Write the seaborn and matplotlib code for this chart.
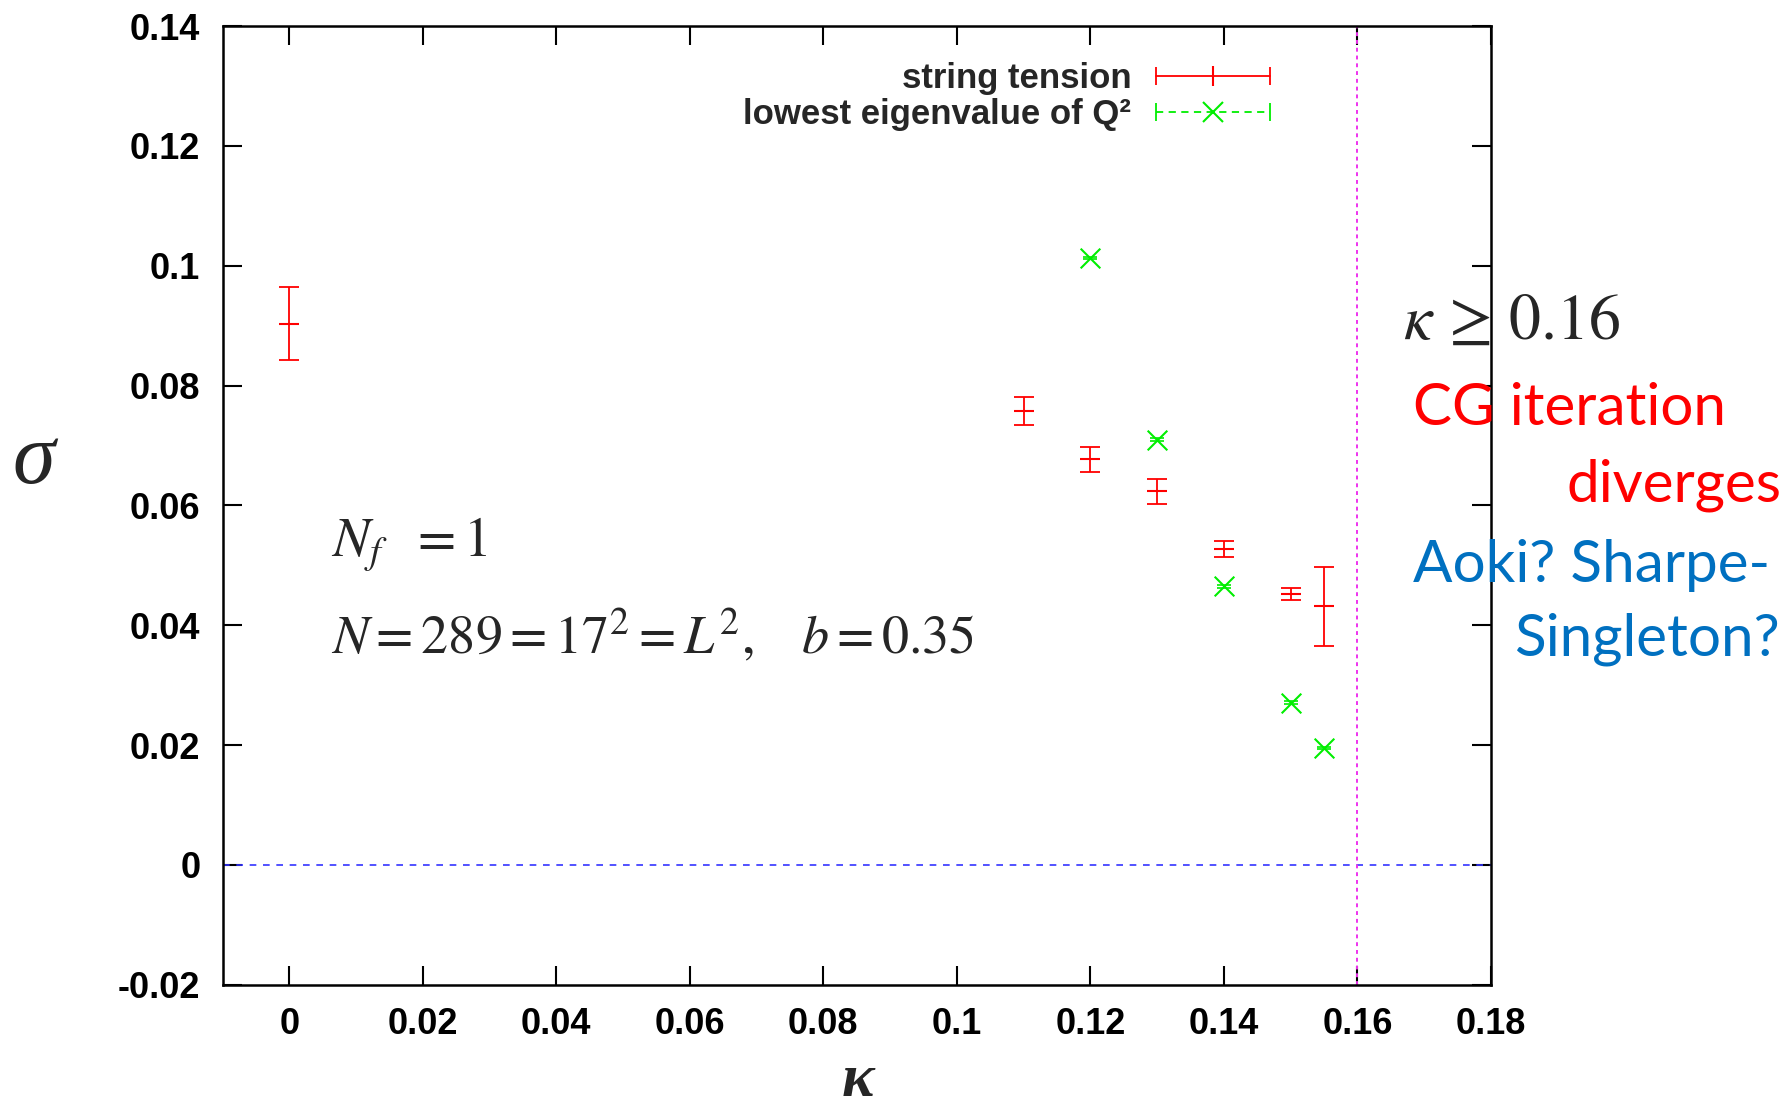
import numpy as np
import pandas as pd
import matplotlib
matplotlib.use("Agg")
import matplotlib.pyplot as plt
import seaborn as sns
from matplotlib.lines import Line2D
from matplotlib.legend_handler import HandlerBase

# ---------------- data ----------------
kappa_st = [0.0, 0.11, 0.12, 0.13, 0.14, 0.15, 0.155]
sigma_st = [0.0903, 0.0758, 0.0677, 0.0624, 0.0527, 0.0453, 0.0432]
sigma_st_err = [0.0061, 0.0023, 0.0021, 0.0021, 0.0013, 0.0010, 0.0066]

kappa_ev = [0.12, 0.13, 0.14, 0.15, 0.155]
sigma_ev = [0.1013, 0.0710, 0.0465, 0.0271, 0.0195]
sigma_ev_err = [0.0002, 0.0002, 0.0002, 0.0002, 0.0002]

xticks = [0.0, 0.02, 0.04, 0.06, 0.08, 0.10, 0.12, 0.14, 0.16, 0.18]
xtick_labels = ["0", "0.02", "0.04", "0.06", "0.08", "0.1", "0.12", "0.14", "0.16", "0.18"]
yticks = [-0.02, 0.0, 0.02, 0.04, 0.06, 0.08, 0.10, 0.12, 0.14]
ytick_labels = ["-0.02", "0", "0.02", "0.04", "0.06", "0.08", "0.1", "0.12", "0.14"]

kappa_limit = 0.16
legend_labels = ["string tension", "lowest eigenvalue of Q²"]

RED = "#ff0000"
GREEN = "#00ee00"

df_st = pd.DataFrame({"kappa": kappa_st, "sigma": sigma_st, "err": sigma_st_err})
df_ev = pd.DataFrame({"kappa": kappa_ev, "sigma": sigma_ev, "err": sigma_ev_err})

# ---------------- style ----------------
sns.set_theme(style="ticks")
plt.rcParams["font.family"] = ["Liberation Sans", "DejaVu Sans"]
plt.rcParams["mathtext.fontset"] = "stix"

fig = plt.figure(figsize=(17.89, 11.08), dpi=100)
ax = fig.add_axes([0.1244, 0.1112, 0.8334 - 0.1244, 0.9764 - 0.1112])
ax.set_facecolor("white")

# reference lines
ax.axhline(0, color="#3333ff", lw=1.2, ls=(0, (4, 4)), zorder=1)
ax.axvline(kappa_limit, color="#ee33ee", lw=1.4, ls=(0, (2, 2)), zorder=1)

# string tension
ax.errorbar(df_st["kappa"], df_st["sigma"], yerr=df_st["err"], fmt="none",
            ecolor=RED, elinewidth=1.3, capsize=7, capthick=1.3, zorder=3)
sns.scatterplot(data=df_st, x="kappa", y="sigma", marker="_", s=190,
                color=RED, linewidth=1.5, ax=ax, zorder=4, legend=False)

# lowest eigenvalue
ax.errorbar(df_ev["kappa"], df_ev["sigma"], yerr=df_ev["err"], fmt="none",
            ecolor=GREEN, elinewidth=1.2, capsize=5, capthick=1.2, zorder=3)
sns.scatterplot(data=df_ev, x="kappa", y="sigma", marker="x", s=200,
                color=GREEN, linewidth=1.5, ax=ax, zorder=4, legend=False)

ax.set_xlim(-0.01, 0.18)
ax.set_ylim(-0.02, 0.14)
ax.set_xticks(xticks)
ax.set_xticklabels(xtick_labels)
ax.set_yticks(yticks)
ax.set_yticklabels(ytick_labels)
ax.set_xlabel("")
ax.set_ylabel("")
ax.tick_params(axis="both", which="major", direction="in", length=14, width=1.5,
               top=True, right=True, labelsize=26, pad=16, colors="black")
for lab in ax.get_xticklabels() + ax.get_yticklabels():
    lab.set_fontweight("bold")
for sp in ax.spines.values():
    sp.set_visible(True)
    sp.set_linewidth(1.8)
    sp.set_color("black")


# legend with gnuplot-like samples
class CapHandler(HandlerBase):
    def create_artists(self, legend, orig_handle, xdescent, ydescent, width,
                       height, fontsize, trans):
        color, ls, marker = orig_handle
        y = height / 2 - ydescent
        x0, x1 = -xdescent, -xdescent + width
        line = Line2D([x0, x1], [y, y], color=color, ls=ls, lw=1.3, transform=trans)
        caps = Line2D([x0, x1], [y, y], color=color, ls="none", marker="|",
                      ms=13, mew=1.3, transform=trans)
        mid = Line2D([(x0 + x1) / 2], [y], color=color, ls="none", marker=marker,
                     ms=14, mew=1.5, transform=trans)
        return [line, caps, mid]


handles = [(RED, "-", "|"), (GREEN, (0, (4, 3)), "x")]
leg = fig.legend(handles, legend_labels, handler_map={tuple: CapHandler()},
                 loc="upper right", bbox_to_anchor=(0.710, 0.944), frameon=False,
                 markerfirst=False, handlelength=3.3, handletextpad=0.7,
                 labelspacing=0.08, borderpad=0, borderaxespad=0,
                 prop={"family": "Liberation Sans", "weight": "bold", "size": 25})

# axis labels
fig.text(0.019, 0.583, "σ", family="Liberation Serif", style="italic",
         fontsize=62, ha="center", va="center")
fig.text(0.4797, 0.011, "κ", family="Liberation Serif", style="italic",
         weight="bold", fontsize=44, ha="center", va="baseline")

# annotations inside the axes
fig.text(0.185, 0.498, r"$N_f\ \ =1$", fontsize=40, ha="left", va="baseline")
fig.text(0.185, 0.410, r"$N=289=17^2=L^2,\quad b=0.35$", fontsize=39,
         ha="left", va="baseline")

# annotations on the right
fig.text(0.784, 0.694, r"$\kappa\,\geq\,0.16$", fontsize=46, ha="left", va="baseline")
calibri = ["Lato", "DejaVu Sans"]
fig.text(0.790, 0.616, "CG iteration", family=calibri, fontsize=42,
         color="#ff0000", ha="left", va="baseline")
fig.text(0.996, 0.547, "diverges", family=calibri, fontsize=42,
         color="#ff0000", ha="right", va="baseline")
fig.text(0.790, 0.475, "Aoki? Sharpe-", family=calibri, fontsize=42,
         color="#0070c0", ha="left", va="baseline")
fig.text(0.995, 0.408, "Singleton?", family=calibri, fontsize=42,
         color="#0070c0", ha="right", va="baseline")

fig.savefig("out.png", dpi=100, facecolor="white")
